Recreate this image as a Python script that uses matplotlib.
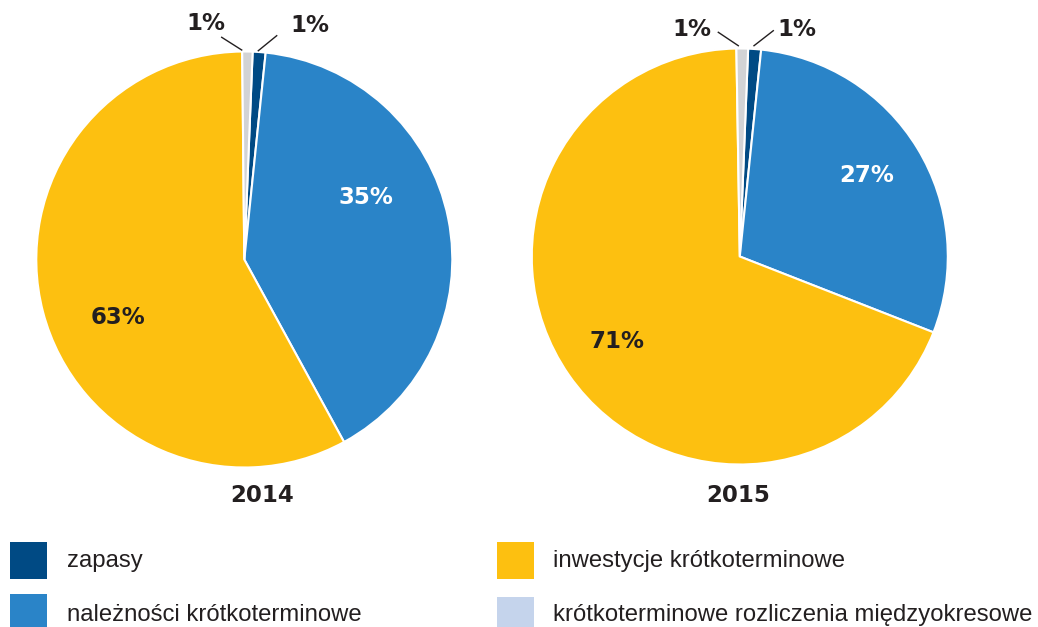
import matplotlib.pyplot as plt

W, H = 1038, 627

categories = ["zapasy", "należności krótkoterminowe",
              "inwestycje krótkoterminowe", "krótkoterminowe rozliczenia międzyokresowe"]
years = ["2014", "2015"]
# slice sizes as drawn (clockwise from the top)
shares_2014 = [1.0, 40.4, 57.8, 0.8]
shares_2015 = [1.0, 29.3, 68.8, 0.9]
# percent labels as printed on the chart
labels_2014 = ["1%", "35%", "63%", "1%"]
labels_2015 = ["1%", "27%", "71%", "1%"]

pie_colors = ["#004a84", "#2a84c8", "#fdc010", "#d2d3d5"]
legend_colors = ["#004a84", "#2a84c8", "#fdc010", "#c5d4ec"]
text_dark = "#231f20"
bold_font = "DejaVu Sans"


def py(y):
    # pixel row -> data y
    return H - y


fig = plt.figure(figsize=(W / 100, H / 100), dpi=100)
ax = fig.add_axes([0, 0, 1, 1])

pies = [
    (shares_2014, labels_2014, (244.3, 259.5),
     [(366, 197), (118, 318)], [(206, 24), (310, 26)],
     [((221.7, 37.3), (241.7, 50)), ((276.7, 35.7), (258.3, 50.7))], (261.7, 495)),
    (shares_2015, labels_2015, (739.8, 256.5),
     [(867, 176), (617, 341)], [(692, 30), (797, 30)],
     [((718.3, 32.3), (738.3, 45.7)), ((773.3, 30.7), (754, 45.7))], (738.3, 495)),
]

lbl = dict(fontsize=16.5, fontweight="bold", family=bold_font, ha="center", va="center")

for (shares, labels, (cx, cy), big_pos, small_pos, leaders, year_pos), year in zip(pies, years):
    ax.pie(shares, colors=pie_colors, center=(cx, py(cy)), radius=208,
           startangle=87.7, counterclock=False,
           wedgeprops=dict(edgecolor="white", linewidth=1.5))
    # big labels: należności (white), inwestycje (dark)
    ax.text(big_pos[0][0], py(big_pos[0][1]), labels[1], color="white", **lbl)
    ax.text(big_pos[1][0], py(big_pos[1][1]), labels[2], color=text_dark, **lbl)
    # small labels: rozliczenia (left), zapasy (right)
    ax.text(small_pos[0][0], py(small_pos[0][1]), labels[3], color=text_dark, **lbl)
    ax.text(small_pos[1][0], py(small_pos[1][1]), labels[0], color=text_dark, **lbl)
    for (x0, y0), (x1, y1) in leaders:
        ax.plot([x0, x1], [py(y0), py(y1)], color=text_dark, lw=1.0)
    ax.text(year_pos[0], py(year_pos[1]), year, color=text_dark, **lbl)

# legend
legend_spots = [(10, 542, 67, 567), (10, 594, 67, 621),
                (497, 542, 553, 567), (497, 597, 553, 621)]
for cat, col, (lx, ly, tx, ty) in zip(categories, legend_colors, legend_spots):
    ax.add_patch(plt.Rectangle((lx, py(ly + 37)), 37, 37, facecolor=col, edgecolor="none"))
    ax.text(tx, py(ty), cat, color=text_dark, fontsize=17.2,
            family="Liberation Sans", ha="left", va="baseline")

ax.set_xlim(0, W)
ax.set_ylim(0, H)
ax.set_aspect("auto")
ax.axis("off")

fig.savefig("out.png", dpi=100)
